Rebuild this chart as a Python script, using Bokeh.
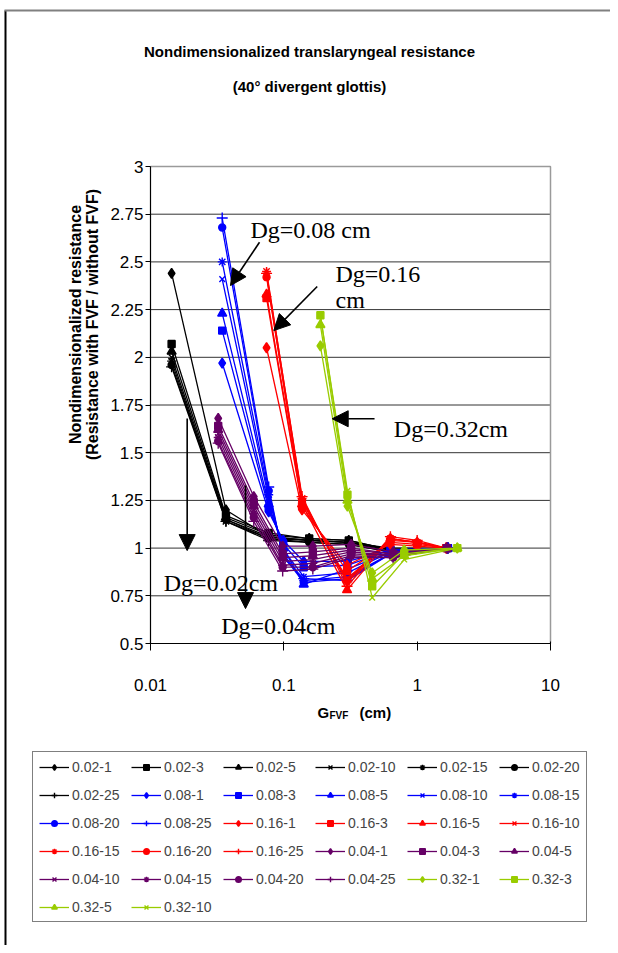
import math
from bokeh.plotting import figure
from bokeh.models import (Range1d, FixedTicker, CustomJSTickFormatter, Label, Arrow,
                          NormalHead, BoxAnnotation, LinearAxis, LogAxis)
from bokeh.embed import file_html
from bokeh.resources import INLINE

# ---------------- data ----------------
CASES = ["1", "3", "5", "10", "15", "20", "25"]
MARKERS = ["diamond", "square", "triangle", "x", "asterisk", "circle", "cross"]
MARKER_SIZES = [10, 7, 9, 8, 9, 7, 11]

# Dg = 0.02 cm (black)
G_002 = [0.0144, 0.0368, 0.077, 0.155, 0.307, 0.63, 1.7]
R_002 = [
    [2.44, 1.20, 1.06, 1.04, 1.03, 1.00, 1.0],
    [2.07, 1.17, 1.08, 1.05, 1.04, 0.99, 1.0],
    [2.03, 1.16, 1.07, 1.05, 1.04, 0.99, 1.0],
    [2.00, 1.15, 1.06, 1.04, 1.03, 0.99, 1.0],
    [1.98, 1.14, 1.05, 1.04, 1.03, 0.98, 1.0],
    [1.96, 1.15, 1.05, 1.03, 1.02, 0.98, 1.0],
    [1.95, 1.14, 1.04, 1.03, 1.02, 0.98, 1.0],
]
# Dg = 0.08 cm (blue)
G_008 = [0.0345, 0.077, 0.099, 0.141, 0.30, 0.63, 1.7]
R_008 = [
    [1.97, 1.19, 1.04, 0.93, 0.93, 0.99, 1.0],
    [2.14, 1.21, 1.02, 0.90, 0.91, 0.99, 1.0],
    [2.23, 1.23, 1.00, 0.81, 0.89, 0.98, 1.0],
    [2.41, 1.26, 0.99, 0.85, 0.87, 0.98, 1.0],
    [2.50, 1.28, 0.97, 0.83, 0.85, 0.97, 1.0],
    [2.68, 1.30, 0.96, 0.82, 0.84, 0.97, 1.0],
    [2.73, 1.32, 0.95, 0.84, 0.83, 0.97, 1.0],
]
# Dg = 0.16 cm (red)
G_016 = [0.0742, 0.137, 0.298, 0.63, 1.0, 1.65]
R_016 = [
    [2.05, 1.20, 0.91, 1.02, 1.01, 1.0],
    [2.31, 1.22, 0.88, 1.03, 1.02, 1.0],
    [2.33, 1.23, 0.78, 1.05, 1.03, 1.0],
    [2.43, 1.24, 0.84, 1.04, 1.03, 1.0],
    [2.45, 1.26, 0.82, 1.05, 1.03, 1.0],
    [2.42, 1.25, 0.83, 1.05, 1.03, 1.0],
    [2.44, 1.27, 0.80, 1.06, 1.04, 1.0],
]
# Dg = 0.04 cm (purple)
G_004 = [0.0322, 0.0595, 0.098, 0.165, 0.32, 0.66, 1.67]
R_004 = [
    [1.68, 1.27, 1.01, 1.01, 1.02, 0.98, 1.0],
    [1.64, 1.24, 0.97, 0.98, 1.00, 0.97, 1.0],
    [1.62, 1.22, 0.95, 0.96, 0.99, 0.97, 1.0],
    [1.60, 1.20, 0.93, 0.94, 0.98, 0.96, 1.0],
    [1.58, 1.18, 0.91, 0.92, 0.97, 0.96, 1.0],
    [1.56, 1.16, 0.90, 0.90, 0.96, 0.95, 1.0],
    [1.55, 1.14, 0.88, 0.89, 0.95, 0.95, 1.0],
]
# Dg = 0.32 cm (yellow-green)
G_032 = [0.188, 0.30, 0.46, 0.80, 2.0]
R_032 = [
    [2.06, 1.22, 0.87, 0.99, 1.0],
    [2.22, 1.28, 0.80, 0.97, 1.0],
    [2.17, 1.25, 0.84, 0.96, 1.0],
    [2.22, 1.30, 0.74, 0.94, 1.0],
]

GROUPS = [("0.02", "#000000", G_002, R_002),
          ("0.08", "#0000FF", G_008, R_008),
          ("0.16", "#FF0000", G_016, R_016),
          ("0.04", "#660066", G_004, R_004),
          ("0.32", "#99CC00", G_032, R_032)]

Y_TICKS = [0.5, 0.75, 1, 1.25, 1.5, 1.75, 2, 2.25, 2.5, 2.75, 3]
X_TICKS = [0.01, 0.1, 1, 10]

# annotation texts and arrows (data coordinates)
NOTES = [("Dg=0.08  cm", 0.0562, 2.665), ("Dg=0.16", 0.244, 2.434), ("cm", 0.244, 2.300),
         ("Dg=0.32cm", 0.668, 1.625), ("Dg=0.02cm", 0.01258, 0.816), ("Dg=0.04cm", 0.0339, 0.590)]
ARROWS = [(0.0657, 2.603, 0.0398, 2.376), (0.178, 2.371, 0.0841, 2.14),
          (0.479, 1.678, 0.2306, 1.678), (0.01884, 1.679, 0.01884, 0.987),
          (0.0516, 1.328, 0.0516, 0.683)]

# ---------------- layout constants ----------------
W, H = 610, 945
PX_LEFT, PX_RIGHT, PX_TOP, PX_BOTTOM = 150, 550, 166, 643   # plot box in page pixels
dec_px = (PX_RIGHT - PX_LEFT) / math.log10(X_TICKS[-1] / X_TICKS[0])
unit_px = (PX_BOTTOM - PX_TOP) / (Y_TICKS[-1] - Y_TICKS[0])
x_lo = 10 ** (math.log10(X_TICKS[0]) - PX_LEFT / dec_px)
x_hi = 10 ** (math.log10(X_TICKS[-1]) + (W - PX_RIGHT) / dec_px)
y_lo = Y_TICKS[0] - (H - PX_BOTTOM) / unit_px
y_hi = Y_TICKS[-1] + PX_TOP / unit_px

FONT = "Liberation Sans"

p = figure(width=W, height=H, x_axis_type="log",
           x_range=Range1d(x_lo, x_hi), y_range=Range1d(y_lo, y_hi),
           x_axis_location=None, y_axis_location=None,
           output_backend="svg", toolbar_location=None,
           min_border=0)
p.title.visible = False
p.background_fill_color = "white"
p.border_fill_color = "white"
p.outline_line_color = None
for g in p.grid:
    g.visible = False

# horizontal gridlines across the plot box
n = len(Y_TICKS)
p.segment(x0=[X_TICKS[0]] * n, y0=Y_TICKS, x1=[X_TICKS[-1]] * n, y1=Y_TICKS,
          line_color="#333333", line_width=1)
# grey top / right border of the plot box
p.segment(x0=[X_TICKS[0], X_TICKS[-1]], y0=[Y_TICKS[-1], Y_TICKS[0]],
          x1=[X_TICKS[-1], X_TICKS[-1]], y1=[Y_TICKS[-1], Y_TICKS[-1]],
          line_color="#9a9a9a", line_width=1.5)

fmt = CustomJSTickFormatter(code="return tick.toString();")
yax = LinearAxis(fixed_location=X_TICKS[0], bounds=(Y_TICKS[0], Y_TICKS[-1]),
                 ticker=FixedTicker(ticks=Y_TICKS), formatter=fmt)
xax = LogAxis(fixed_location=Y_TICKS[0], bounds=(X_TICKS[0], X_TICKS[-1]),
              ticker=FixedTicker(ticks=X_TICKS),
              formatter=CustomJSTickFormatter(code="return tick.toString();"))
for ax in (xax, yax):
    ax.axis_line_color = "#000000"
    ax.axis_line_width = 1.2
    ax.major_tick_line_color = "#000000"
    ax.minor_tick_line_color = None
    ax.major_label_text_font = FONT
    ax.major_label_text_font_size = "17px"
    ax.major_label_text_color = "#000000"
yax.major_tick_in = 0
yax.major_tick_out = 5
yax.major_label_standoff = 2
xax.major_tick_in = 2
xax.major_tick_out = 7
xax.major_label_standoff = 28
p.add_layout(yax, "left")
p.add_layout(xax, "below")

# data series
for dg, color, gx, rows in GROUPS:
    for i, ys in enumerate(rows):
        lab = f"{dg}-{CASES[i]}"
        p.line(gx, ys, line_color=color, line_width=1.3, legend_label=lab)
        m = MARKERS[i]
        filled = m in ("diamond", "square", "triangle", "circle")
        p.scatter(gx, ys, marker=m, size=MARKER_SIZES[i], line_color=color,
                  fill_color=color if filled else None, line_width=1.4,
                  legend_label=lab)

# arrows and notes
for xs, ys, xe, ye in ARROWS:
    p.add_layout(Arrow(end=NormalHead(size=16, fill_color="black", line_color="black"),
                       x_start=xs, y_start=ys, x_end=xe, y_end=ye,
                       line_color="black", line_width=1.6))
for txt, x, y in NOTES:
    p.add_layout(Label(x=x, y=y, text=txt, text_font="Liberation Serif",
                       text_font_size="24px", text_baseline="alphabetic",
                       text_align="left", text_color="black"))

# titles (screen units: x from left, y up from bottom of canvas)
def sl(x, y, text, size, **kw):
    p.add_layout(Label(x=x, y=H - y, x_units="screen", y_units="screen", text=text,
                       text_font=FONT, text_font_style="bold", text_font_size=size,
                       text_color="black", **kw))

sl(309, 51, "Nondimensionalized translaryngeal resistance", "15px",
   text_align="center", text_baseline="middle")
sl(309, 86, "(40° divergent glottis)", "15px", text_align="center", text_baseline="middle")
# y axis label (two lines)
sl(75, 324, "Nondimensionalized resistance", "16px", angle=math.pi / 2,
   text_align="center", text_baseline="middle")
sl(92, 324, "(Resistance with FVF / without FVF)", "16px", angle=math.pi / 2,
   text_align="center", text_baseline="middle")
# x axis label G_FVF (cm)
sl(317, 712, "G", "15px", text_baseline="alphabetic")
sl(329, 715, "FVF", "10px", text_baseline="alphabetic")
sl(359, 712, "(cm)", "15px", text_baseline="alphabetic")

# outer frame lines
p.add_layout(BoxAnnotation(left=4, right=6, top=10, bottom=H, left_units="canvas",
                           right_units="canvas", top_units="canvas", bottom_units="canvas",
                           fill_color="black", fill_alpha=1, line_color=None))
p.add_layout(BoxAnnotation(left=4, right=W, top=9, bottom=11, left_units="canvas",
                           right_units="canvas", top_units="canvas", bottom_units="canvas",
                           fill_color="#808080", fill_alpha=1, line_color=None))

# legend
lg = p.legend[0]
lg.orientation = "horizontal"
lg.ncols = 6
lg.location = (32, H - 922)
lg.label_text_font = FONT
lg.label_text_font_size = "14px"
lg.glyph_width = 30
lg.glyph_height = 14
lg.label_height = 17
lg.label_width = 48
lg.label_standoff = 3
lg.spacing = 11
lg.padding = 6
lg.margin = 0
lg.border_line_color = "black"
lg.border_line_width = 1
lg.background_fill_color = "white"
lg.background_fill_alpha = 1

open("out.html", "w").write(file_html(p, INLINE))
